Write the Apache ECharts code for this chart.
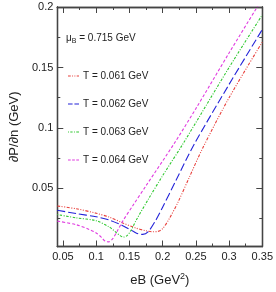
<!DOCTYPE html>
<html>
<head>
<meta charset="utf-8">
<script src="https://cdn.jsdelivr.net/npm/echarts@6/dist/echarts.min.js"></script>
<style>html,body{margin:0;padding:0;background:#fff}#c{width:276px;height:292px}</style>
</head>
<body>
<div id="c"></div>
<script>
// ---- data ----
const xMajorTicks = [0.05, 0.1, 0.15, 0.2, 0.25, 0.3, 0.35];
const xMinorTicks = [0.075, 0.125, 0.175, 0.225, 0.275, 0.325];
const yMajorTicks = [0.05, 0.1, 0.15, 0.2];
const yMinorTicks = [0.025, 0.075, 0.125, 0.175];

const seriesNames = ['T = 0.061 GeV', 'T = 0.062 GeV', 'T = 0.063 GeV', 'T = 0.064 GeV'];

const eB_061 = [0.0415, 0.07, 0.1, 0.12, 0.14, 0.16, 0.175, 0.185, 0.193, 0.2, 0.21, 0.223, 0.24, 0.26, 0.3, 0.35];
const dP_061 = [0.0355, 0.0332, 0.0295, 0.0262, 0.0215, 0.0172, 0.0150, 0.0142, 0.0145, 0.0168, 0.0250, 0.0385, 0.0590, 0.0830, 0.1250, 0.1710];

const eB_062 = [0.0415, 0.07, 0.1, 0.12, 0.14, 0.155, 0.163, 0.17, 0.178, 0.19, 0.2, 0.22, 0.2465, 0.3, 0.35];
const dP_062 = [0.0320, 0.0292, 0.0266, 0.0238, 0.0192, 0.0148, 0.0125, 0.0120, 0.0140, 0.0240, 0.0345, 0.0565, 0.0855, 0.1360, 0.1814];

const eB_063 = [0.0415, 0.07, 0.1, 0.12, 0.13, 0.136, 0.141, 0.146, 0.152, 0.161, 0.18, 0.2, 0.2312, 0.3, 0.35];
const dP_063 = [0.0284, 0.0257, 0.0233, 0.0180, 0.0136, 0.0110, 0.0098, 0.0108, 0.0150, 0.0245, 0.0425, 0.0605, 0.0874, 0.1500, 0.1935];

const eB_064 = [0.0415, 0.07, 0.09, 0.1, 0.108, 0.114, 0.119, 0.125, 0.132, 0.14, 0.156, 0.175, 0.2177, 0.25, 0.3, 0.3423, 0.35];
const dP_064 = [0.0230, 0.0200, 0.0160, 0.0132, 0.0095, 0.0062, 0.0058, 0.0085, 0.0150, 0.0230, 0.0365, 0.0522, 0.0874, 0.1160, 0.1620, 0.2000, 0.2070];

const xMin = 0.0415, xMax = 0.35, yMin = 0.002, yMax = 0.2;

const colors = ['#e8403c', '#2323d8', '#30c830', '#e03ce0'];
const dashes = [[3, 1.5, 1, 1.5, 1, 1.5], [8, 3], [1, 1.5, 2.5, 1.5], [3, 2]];
const legendIcons = [
  'path://M0,0h3v1h-3z M4.5,0h1v1h-1z M7,0h1v1h-1z M9.5,0h2.5v1h-2.5z',
  'path://M0,0h5v1h-5z M7,0h5v1h-5z',
  'path://M0,0h1v1h-1z M2.5,0h2.5v1h-2.5z M6.5,0h1v1h-1z M9,0h3v1h-3z',
  'path://M0,0h3v1h-3z M4.5,0h3v1h-3z M9,0h3v1h-3z'
];
const xs = [eB_061, eB_062, eB_063, eB_064];
const ys = [dP_061, dP_062, dP_063, dP_064];

const FONT = 'Liberation Sans, Arial, sans-serif';
const axisLineStyle = { color: '#444', width: 1.3 };

function xAxisDef(pos, ticks, len, labels, extra) {
  return Object.assign({
    type: 'value', position: pos, min: xMin, max: xMax, gridIndex: 0,
    axisLine: { show: true, onZero: false, lineStyle: axisLineStyle },
    axisTick: { show: true, inside: true, length: len, customValues: ticks, lineStyle: { color: '#444', width: 1 } },
    axisLabel: labels ? { show: true, customValues: ticks, margin: 5, fontSize: 11, fontFamily: FONT, color: '#222',
      formatter: v => String(+v.toFixed(3)) } : { show: false },
    splitLine: { show: false }
  }, extra || {});
}
function yAxisDef(pos, ticks, len, labels, extra) {
  return Object.assign({
    type: 'value', position: pos, min: yMin, max: yMax, gridIndex: 0,
    axisLine: { show: true, onZero: false, lineStyle: axisLineStyle },
    axisTick: { show: true, inside: true, length: len, customValues: ticks, lineStyle: { color: '#444', width: 1 } },
    axisLabel: labels ? { show: true, customValues: ticks, margin: 4, fontSize: 11, fontFamily: FONT, color: '#222',
      formatter: v => String(+v.toFixed(3)) } : { show: false },
    splitLine: { show: false }
  }, extra || {});
}

const chart = echarts.init(document.getElementById('c'), null, { renderer: 'canvas' });
chart.setOption({
  backgroundColor: '#fff',
  animation: false,
  grid: { left: 40.7, right: 13.7, top: 7, bottom: 41, containLabel: false },
  xAxis: [
    xAxisDef('bottom', xMajorTicks, 6, true, {
      name: 'eB (GeV{sup|2})', nameLocation: 'middle', nameGap: 26,
      nameTextStyle: { fontSize: 13, fontFamily: FONT, color: '#222',
        rich: { sup: { fontSize: 9, verticalAlign: 'top', padding: [0, 0, 7, 0], fontFamily: FONT, color: '#222' } } }
    }),
    xAxisDef('bottom', xMinorTicks, 3, false),
    xAxisDef('top', xMajorTicks, 6, false),
    xAxisDef('top', xMinorTicks, 3, false)
  ],
  yAxis: [
    yAxisDef('left', yMajorTicks, 6, true, {
      name: '∂P/∂n (GeV)', nameLocation: 'middle', nameGap: 27,
      nameTextStyle: { fontSize: 13, fontFamily: FONT, color: '#222' }
    }),
    yAxisDef('left', yMinorTicks, 3, false),
    yAxisDef('right', yMajorTicks, 6, false),
    yAxisDef('right', yMinorTicks, 3, false)
  ],
  legend: {
    orient: 'vertical', left: 63, top: 66, itemGap: 18, itemWidth: 11, itemHeight: 1.3,
    textStyle: { fontSize: 10, fontFamily: FONT, color: '#222', padding: [0, 0, 0, -1] },
    data: seriesNames.map((n, i) => ({ name: n, icon: legendIcons[i] }))
  },
  graphic: [{
    type: 'text', left: 66, top: 33,
    style: {
      text: '{m|μ}{s|B}{m| = 0.715 GeV}',
      rich: {
        m: { fontSize: 10, fontFamily: FONT, fill: '#222' },
        s: { fontSize: 7, fontFamily: FONT, fill: '#222', padding: [6, 0, 0, 0] }
      }
    }
  }],
  series: seriesNames.map((n, i) => ({
    name: n, type: 'line', xAxisIndex: 0, yAxisIndex: 0,
    data: xs[i].map((x, k) => [x, ys[i][k]]),
    smooth: 0.3, symbol: 'none', clip: true,
    lineStyle: { color: colors[i], width: 1.1, type: dashes[i] },
    itemStyle: { color: colors[i] }
  }))
});
</script>
</body>
</html>
